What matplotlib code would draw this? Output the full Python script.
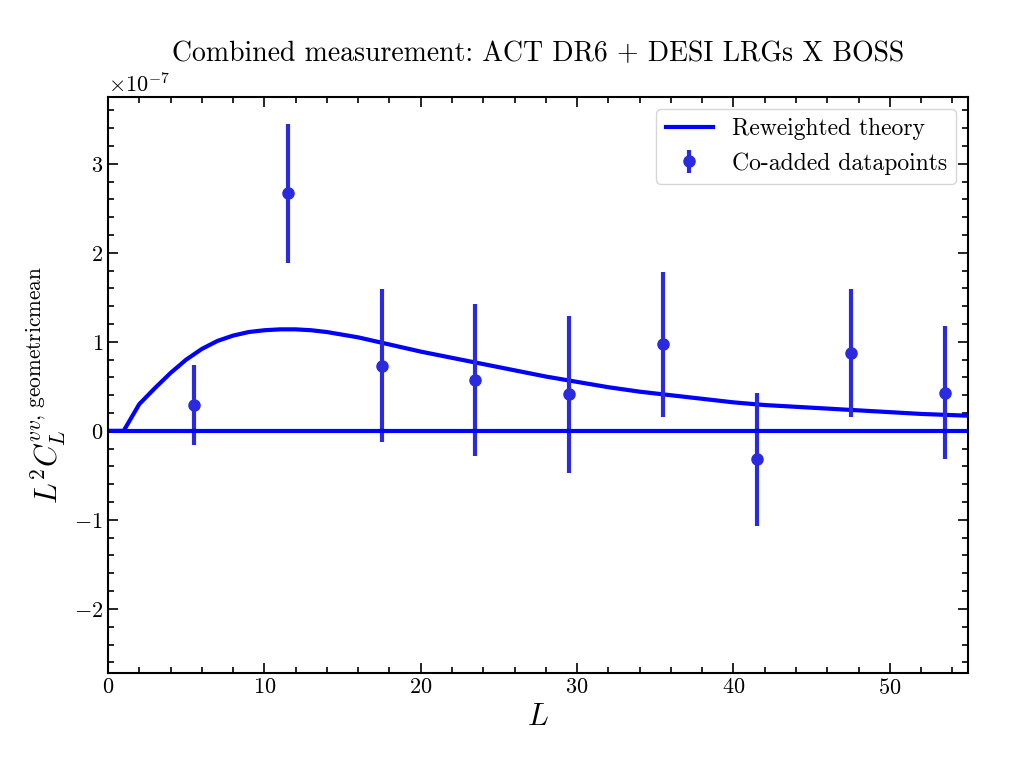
import matplotlib
matplotlib.use("Agg")
import matplotlib.pyplot as plt
import numpy as np

plt.rcParams.update({"font.family": "serif", "font.serif": ["cmr10"], "mathtext.fontset": "cm",
                     "axes.formatter.use_mathtext": True, "font.size": 16, "axes.linewidth": 1.5})

L_data = [5.5, 11.5, 17.5, 23.5, 29.5, 35.5, 41.5, 47.5, 53.5]
C_data = [0.29, 2.67, 0.73, 0.57, 0.41, 0.97, -0.32, 0.87, 0.43]
C_err = [0.45, 0.78, 0.86, 0.85, 0.88, 0.81, 0.75, 0.72, 0.75]
L_th = [0, 1, 2, 3, 4, 5, 6, 7, 8, 9, 10, 11, 12, 13, 14, 15, 16, 17, 18, 19, 20, 22, 24, 26, 28, 30,
        32, 34, 36, 38, 40, 42, 44, 46, 48, 50, 52, 55]
C_th = [0, 0, 0.3, 0.48, 0.65, 0.8, 0.92, 1.01, 1.07, 1.11, 1.13, 1.14, 1.14, 1.13, 1.11, 1.08, 1.05,
        1.01, 0.97, 0.93, 0.89, 0.82, 0.75, 0.68, 0.61, 0.55, 0.49, 0.44, 0.40, 0.36, 0.32, 0.29,
        0.27, 0.25, 0.23, 0.21, 0.19, 0.17]

fig = plt.figure(figsize=(10.24, 7.63), dpi=100)
ax = fig.add_axes([108/1024, 90/763, 860/1024, 576/763])
ax.plot(L_th, np.array(C_th)*1e-7, color="blue", lw=3, label="Reweighted theory")
ax.errorbar(L_data, np.array(C_data)*1e-7, yerr=np.array(C_err)*1e-7, fmt="o", color="#2a2ae0",
            ms=8, elinewidth=3, capsize=0, label="Co-added datapoints")
ax.axhline(0, color="blue", lw=3)
ax.set_xlim(0, 55)
ax.set_ylim(-2.72e-7, 3.75e-7)
ax.minorticks_on()
ax.tick_params(which="both", direction="in", top=True, right=True, width=1.2)
ax.tick_params(which="major", length=7)
ax.tick_params(which="minor", length=4)
ax.set_xlabel(r"$L$", fontsize=22)
ax.set_ylabel(r"$L^2C_L^{vv,\,\mathrm{geometric mean}}$", fontsize=22)
ax.set_title("Combined measurement: ACT DR6 + DESI LRGs X BOSS", fontsize=20, pad=26)
ax.legend(loc="upper right", fontsize=17)
fig.savefig("out.png", dpi=100)
